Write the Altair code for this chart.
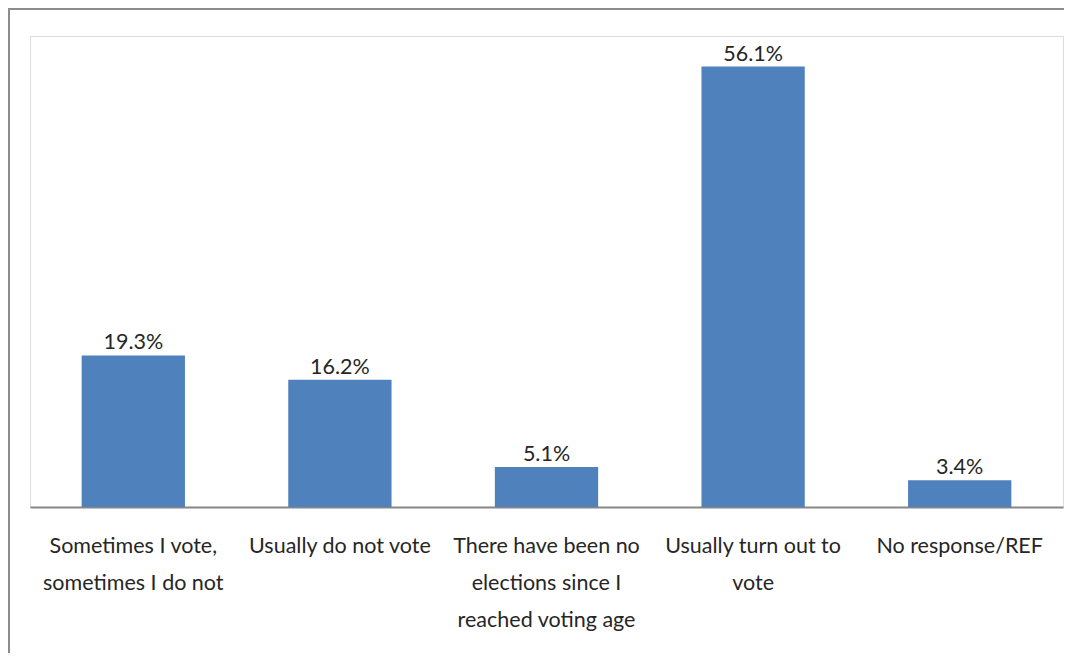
import altair as alt
import pandas as pd

categories = [
    "Sometimes I vote,\nsometimes I do not",
    "Usually do not vote",
    "There have been no\nelections since I\nreached voting age",
    "Usually turn out to\nvote",
    "No response/REF",
]
values = [19.3, 16.2, 5.1, 56.1, 3.4]
value_labels = ["19.3%", "16.2%", "5.1%", "56.1%", "3.4%"]

df = pd.DataFrame({"cat": categories, "val": values, "lab": value_labels})

FONT = "Lato"

x_enc = alt.X(
    "cat:N",
    sort=categories,
    scale=alt.Scale(paddingInner=0.5, paddingOuter=0.25),
    axis=alt.Axis(
        title=None,
        labelAngle=0,
        labelExpr="split(datum.label, '\\n')",
        labelFont=FONT,
        labelFontSize=21.5,
        labelColor="#262626",
        labelPadding=28,
        labelLineHeight=37,
        labelBaseline="top",
        labelLimit=0,
        ticks=False,
        grid=False,
        domainColor="#868686",
        domainWidth=2,
    ),
)
y_enc = alt.Y("val:Q", scale=alt.Scale(domain=[0, 60]), axis=None)

base = alt.Chart(df)
bars = base.mark_bar(color="#4F81BD").encode(x=x_enc, y=y_enc)
text = base.mark_text(
    dy=-6, baseline="alphabetic", fontSize=21.5, font=FONT, color="#262626"
).encode(x=x_enc, y=y_enc, text="lab:N")

border = alt.Chart(pd.DataFrame({"a": [0]})).mark_rect(
    filled=False, stroke="#8c8c8c", strokeWidth=2, clip=False
).encode(
    x=alt.value(-21), x2=alt.value(1045), y=alt.value(-27), y2=alt.value(700)
)

chart = (
    alt.layer(border, bars, text)
    .properties(
        width=1033,
        height=471,
        autosize=alt.AutoSizeParams(type="none"),
        padding={"left": 22, "top": 28, "right": 1, "bottom": 146},
    )
    .configure_view(stroke="#d9d9d9", strokeWidth=2)
    .configure(background="white")
)

chart.save("out.html", embed_options={"renderer": "svg", "actions": False})
